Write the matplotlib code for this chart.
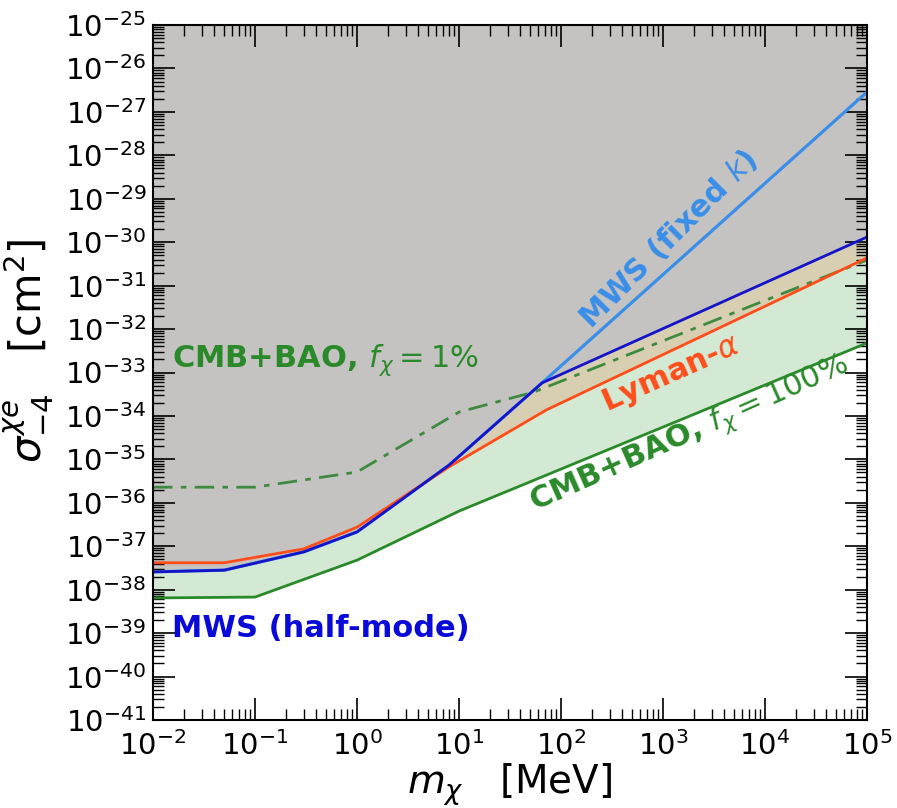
import numpy as np
import matplotlib
matplotlib.use("Agg")
import matplotlib.pyplot as plt
from matplotlib.ticker import LogLocator, NullFormatter

# Limits on the DM-electron cross section (velocity^-4 scaling), log10 values
m_cmb100 = [1e-2, 1e-1, 1e0, 1e1, 1e5]
s_cmb100 = [-38.19, -38.17, -37.32, -36.19, -32.32]

m_cmb1 = [1e-2, 1e-1, 1e0, 1e1, 54, 1e5]
s_cmb1 = [-35.64, -35.64, -35.29, -33.91, -33.45, -30.41]

m_lya = [1e-2, 5e-2, 3e-1, 1e0, 8, 72, 1e5]
s_lya = [-37.38, -37.38, -37.06, -36.56, -35.17, -33.86, -30.36]

m_half = [1e-2, 5e-2, 3e-1, 1e0, 8, 65, 1e5]
s_half = [-37.59, -37.55, -37.13, -36.67, -35.13, -33.24, -29.88]

m_fixk = [1e-2, 5e-2, 3e-1, 1e0, 8, 65, 1e5]
s_fixk = [-37.59, -37.55, -37.13, -36.67, -35.13, -33.24, -26.54]

xmin, xmax = 1e-2, 1e5
ymin, ymax = 1e-41, 1e-25

# common grid so the shaded bands can be built from the curves
grid = np.logspace(-2, 5, 800)
def on_grid(m, s):
    return 10 ** np.interp(np.log10(grid), np.log10(m), s)

cmb100 = on_grid(m_cmb100, s_cmb100)
lya = on_grid(m_lya, s_lya)
half = on_grid(m_half, s_half)

fig = plt.figure(figsize=(8.97, 8.08), dpi=100)
ax = fig.add_axes([0.1706, 0.1089, 0.7960, 0.8601])

# shaded regions
ax.fill_between(grid, half, ymax, color="#c4c3c2", lw=0, zorder=1)
ax.fill_between(grid, cmb100, np.minimum(lya, half), color="#d3e9d3", lw=0, zorder=1)
ax.fill_between(grid, lya, half, where=half > lya, color="#d8cfb3", lw=0, zorder=1)

# curves
ax.plot(m_cmb100, 10 ** np.array(s_cmb100), color="#2a8a2a", lw=2, zorder=3)
ax.plot(m_cmb1, 10 ** np.array(s_cmb1), color="#3f8a3f", lw=2, ls=(0, (7, 3, 2, 3)), zorder=3)
ax.plot(m_fixk, 10 ** np.array(s_fixk), color="#3a8ee8", lw=2.3, zorder=4)
ax.plot(m_lya, 10 ** np.array(s_lya), color="#ff4d1a", lw=2, zorder=4)
ax.plot(m_half, 10 ** np.array(s_half), color="#1414c8", lw=2, zorder=5)

ax.set_xscale("log")
ax.set_yscale("log")
ax.set_xlim(xmin, xmax)
ax.set_ylim(ymin, ymax)

ax.xaxis.set_major_locator(LogLocator(base=10, numticks=20))
ax.yaxis.set_major_locator(LogLocator(base=10, numticks=30))
ax.xaxis.set_minor_locator(LogLocator(base=10, subs=np.arange(2, 10), numticks=100))
ax.yaxis.set_minor_locator(LogLocator(base=10, subs=np.arange(2, 10), numticks=200))
ax.xaxis.set_minor_formatter(NullFormatter())
ax.yaxis.set_minor_formatter(NullFormatter())

ax.tick_params(which="both", direction="in", top=True, right=True, labelsize=21)
ax.tick_params(which="major", length=16, width=1.2)
ax.tick_params(which="minor", length=8, width=1.0)
ax.tick_params(axis="x", pad=8)
ax.tick_params(axis="y", pad=5)
for sp in ax.spines.values():
    sp.set_linewidth(1.5)
    sp.set_zorder(6)

ax.set_xlabel(r"$m_\chi$   [MeV]", fontsize=28, labelpad=0)
ax.set_ylabel(r"$\sigma^{\chi e}_{-4}$   [cm$^2$]", fontsize=30)
ax.yaxis.set_label_coords(-0.136, 0.532)

# labels
ax.text(0.027, 0.518, r"CMB+BAO, $f_\chi = 1\%$", transform=ax.transAxes,
        color="#2a8a2a", fontsize=22, fontweight="bold", va="center", ha="left", zorder=7)
ax.text(0.027, 0.132, "MWS (half-mode)", transform=ax.transAxes,
        color="#0a0ad8", fontsize=22, fontweight="bold", va="center", ha="left", zorder=7)
ax.text(0.721, 0.693, r"MWS (fixed $k$)", transform=ax.transAxes,
        color="#3a8ee8", fontsize=22, fontweight="bold", va="center", ha="center",
        rotation=45, rotation_mode="anchor", zorder=7)
ax.text(0.725, 0.498, r"Lyman-$\alpha$", transform=ax.transAxes,
        color="#ff4d1a", fontsize=22, fontweight="bold", va="center", ha="center",
        rotation=24, rotation_mode="anchor", zorder=7)
ax.text(0.752, 0.41, r"CMB+BAO, $f_\chi = 100\%$", transform=ax.transAxes,
        color="#2a8a2a", fontsize=22, fontweight="bold", va="center", ha="center",
        rotation=24, rotation_mode="anchor", zorder=7)

fig.savefig("out.png", dpi=100)
